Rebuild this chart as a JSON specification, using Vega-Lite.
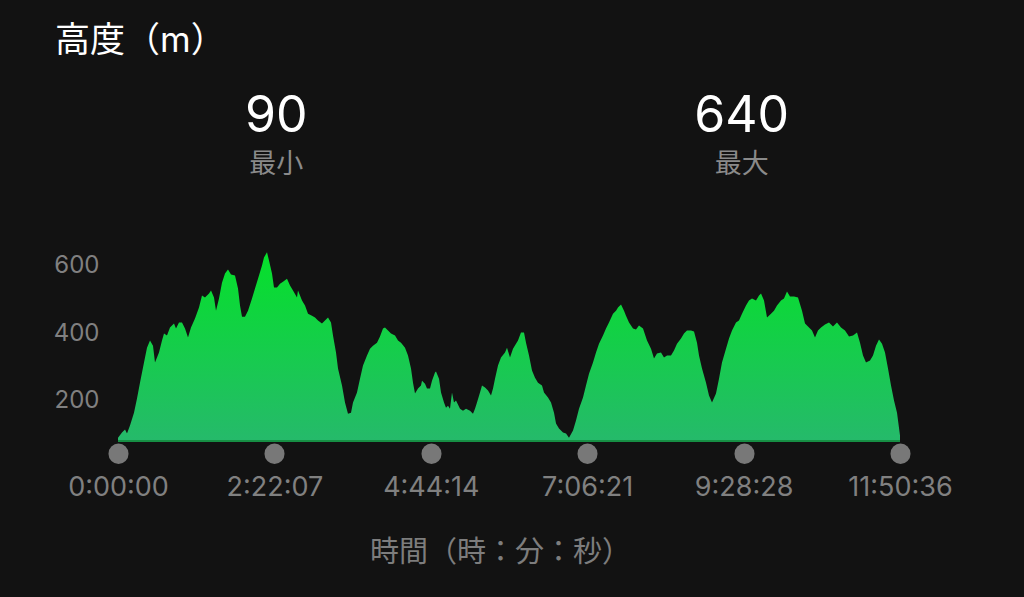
{
  "$schema": "https://vega.github.io/schema/vega-lite/v6.json",
  "autosize": "none",
  "padding": {"left": 118, "top": 249, "right": 124, "bottom": 156},
  "width": 782,
  "height": 192,
  "background": "#121212",
  "title": {
    "text": "高度（m）",
    "anchor": "start",
    "frame": "group",
    "orient": "top",
    "dx": -63,
    "offset": 5,
    "baseline": "alphabetic",
    "color": "#ffffff",
    "fontSize": 35,
    "fontWeight": "normal",
    "font": "Inter, Noto Sans CJK JP"
  },
  "config": {"view": {"stroke": null}, "font": "Inter, Noto Sans CJK JP"},
  "datasets": {
    "profile": [
      {"t":0,"elev":90},{"t":218,"elev":105},{"t":382,"elev":114},{"t":491,"elev":102},{"t":654,"elev":126},{"t":872,"elev":164},{"t":1036,"elev":206},{"t":1199,"elev":253},{"t":1418,"elev":313},{"t":1581,"elev":357},{"t":1745,"elev":378},{"t":1908,"elev":363},{"t":2017,"elev":313},{"t":2235,"elev":343},{"t":2399,"elev":378},{"t":2508,"elev":399},{"t":2672,"elev":393},{"t":2835,"elev":417},{"t":3053,"elev":429},{"t":3162,"elev":414},{"t":3326,"elev":432},{"t":3489,"elev":432},{"t":3653,"elev":414},{"t":3817,"elev":387},{"t":3980,"elev":417},{"t":4198,"elev":444},{"t":4416,"elev":476},{"t":4580,"elev":512},{"t":4743,"elev":506},{"t":4962,"elev":518},{"t":5071,"elev":527},{"t":5234,"elev":506},{"t":5343,"elev":467},{"t":5507,"elev":503},{"t":5670,"elev":550},{"t":5834,"elev":577},{"t":5997,"elev":589},{"t":6161,"elev":574},{"t":6379,"elev":571},{"t":6543,"elev":533},{"t":6652,"elev":482},{"t":6761,"elev":449},{"t":6924,"elev":449},{"t":7088,"elev":467},{"t":7306,"elev":503},{"t":7470,"elev":533},{"t":7633,"elev":562},{"t":7851,"elev":601},{"t":7960,"elev":625},{"t":8124,"elev":640},{"t":8233,"elev":616},{"t":8396,"elev":577},{"t":8505,"elev":536},{"t":8669,"elev":536},{"t":8833,"elev":547},{"t":8996,"elev":553},{"t":9214,"elev":562},{"t":9378,"elev":542},{"t":9541,"elev":527},{"t":9759,"elev":506},{"t":9814,"elev":527},{"t":10032,"elev":497},{"t":10196,"elev":482},{"t":10359,"elev":458},{"t":10577,"elev":452},{"t":10741,"elev":447},{"t":10904,"elev":438},{"t":11122,"elev":429},{"t":11286,"elev":438},{"t":11450,"elev":447},{"t":11613,"elev":432},{"t":11722,"elev":393},{"t":11886,"elev":343},{"t":11995,"elev":295},{"t":12213,"elev":245},{"t":12376,"elev":194},{"t":12540,"elev":161},{"t":12704,"elev":164},{"t":12813,"elev":194},{"t":13031,"elev":224},{"t":13194,"elev":265},{"t":13358,"elev":304},{"t":13576,"elev":334},{"t":13740,"elev":354},{"t":13903,"elev":363},{"t":14121,"elev":372},{"t":14285,"elev":390},{"t":14448,"elev":414},{"t":14557,"elev":417},{"t":14721,"elev":408},{"t":14885,"elev":399},{"t":15103,"elev":393},{"t":15266,"elev":378},{"t":15430,"elev":372},{"t":15648,"elev":357},{"t":15811,"elev":334},{"t":15975,"elev":295},{"t":16084,"elev":253},{"t":16193,"elev":221},{"t":16357,"elev":236},{"t":16520,"elev":245},{"t":16575,"elev":259},{"t":16738,"elev":250},{"t":16847,"elev":236},{"t":17011,"elev":236},{"t":17120,"elev":259},{"t":17283,"elev":283},{"t":17338,"elev":286},{"t":17502,"elev":265},{"t":17611,"elev":224},{"t":17774,"elev":194},{"t":17883,"elev":179},{"t":17992,"elev":185},{"t":18101,"elev":176},{"t":18210,"elev":224},{"t":18319,"elev":194},{"t":18428,"elev":200},{"t":18647,"elev":176},{"t":18810,"elev":170},{"t":18974,"elev":176},{"t":19192,"elev":170},{"t":19355,"elev":161},{"t":19464,"elev":176},{"t":19573,"elev":194},{"t":19737,"elev":224},{"t":19846,"elev":245},{"t":20010,"elev":239},{"t":20173,"elev":230},{"t":20337,"elev":215},{"t":20446,"elev":236},{"t":20555,"elev":265},{"t":20718,"elev":304},{"t":20882,"elev":328},{"t":21100,"elev":343},{"t":21209,"elev":357},{"t":21373,"elev":328},{"t":21536,"elev":354},{"t":21700,"elev":369},{"t":21809,"elev":378},{"t":21972,"elev":402},{"t":22136,"elev":402},{"t":22245,"elev":372},{"t":22409,"elev":334},{"t":22572,"elev":289},{"t":22736,"elev":268},{"t":22899,"elev":253},{"t":23117,"elev":245},{"t":23226,"elev":224},{"t":23444,"elev":209},{"t":23608,"elev":194},{"t":23772,"elev":164},{"t":23881,"elev":132},{"t":24044,"elev":117},{"t":24262,"elev":105},{"t":24426,"elev":102},{"t":24589,"elev":90},{"t":24808,"elev":111},{"t":24971,"elev":141},{"t":25135,"elev":176},{"t":25353,"elev":209},{"t":25516,"elev":245},{"t":25680,"elev":280},{"t":25898,"elev":313},{"t":26062,"elev":343},{"t":26225,"elev":369},{"t":26443,"elev":393},{"t":26607,"elev":414},{"t":26770,"elev":432},{"t":26988,"elev":458},{"t":27152,"elev":467},{"t":27261,"elev":476},{"t":27425,"elev":485},{"t":27588,"elev":467},{"t":27697,"elev":452},{"t":27861,"elev":432},{"t":28079,"elev":414},{"t":28242,"elev":411},{"t":28406,"elev":423},{"t":28624,"elev":414},{"t":28842,"elev":378},{"t":29060,"elev":354},{"t":29224,"elev":325},{"t":29387,"elev":340},{"t":29605,"elev":343},{"t":29769,"elev":328},{"t":29933,"elev":334},{"t":30151,"elev":334},{"t":30314,"elev":349},{"t":30478,"elev":369},{"t":30696,"elev":384},{"t":30859,"elev":399},{"t":31023,"elev":408},{"t":31241,"elev":408},{"t":31405,"elev":405},{"t":31568,"elev":372},{"t":31677,"elev":334},{"t":31841,"elev":295},{"t":32059,"elev":253},{"t":32222,"elev":215},{"t":32386,"elev":194},{"t":32604,"elev":221},{"t":32768,"elev":265},{"t":32931,"elev":313},{"t":33149,"elev":354},{"t":33313,"elev":384},{"t":33477,"elev":408},{"t":33695,"elev":432},{"t":33858,"elev":438},{"t":34022,"elev":458},{"t":34240,"elev":482},{"t":34403,"elev":497},{"t":34567,"elev":503},{"t":34785,"elev":497},{"t":34949,"elev":512},{"t":35058,"elev":518},{"t":35221,"elev":497},{"t":35385,"elev":447},{"t":35603,"elev":458},{"t":35766,"elev":467},{"t":35930,"elev":482},{"t":36148,"elev":497},{"t":36312,"elev":503},{"t":36475,"elev":524},{"t":36639,"elev":509},{"t":36857,"elev":509},{"t":37075,"elev":506},{"t":37293,"elev":467},{"t":37457,"elev":429},{"t":37620,"elev":420},{"t":37838,"elev":408},{"t":38002,"elev":387},{"t":38165,"elev":408},{"t":38329,"elev":417},{"t":38547,"elev":426},{"t":38765,"elev":432},{"t":38983,"elev":420},{"t":39201,"elev":432},{"t":39419,"elev":417},{"t":39637,"elev":408},{"t":39856,"elev":390},{"t":40074,"elev":393},{"t":40292,"elev":402},{"t":40455,"elev":372},{"t":40619,"elev":334},{"t":40782,"elev":313},{"t":41001,"elev":319},{"t":41164,"elev":334},{"t":41328,"elev":363},{"t":41491,"elev":381},{"t":41655,"elev":369},{"t":41818,"elev":343},{"t":41982,"elev":295},{"t":42146,"elev":245},{"t":42309,"elev":200},{"t":42473,"elev":164},{"t":42636,"elev":96}
    ],
    "stats": [
      {"stat": "最小", "value": 90},
      {"stat": "最大", "value": 640}
    ]
  },
  "layer": [
    {
      "data": {"name": "profile"},
      "mark": {
        "type": "area",
        "interpolate": "linear",
        "clip": true,
        "color": {
          "gradient": "linear",
          "x1": 0, "y1": 0, "x2": 0, "y2": 1,
          "stops": [
            {"offset": 0, "color": "#05e12a"},
            {"offset": 1, "color": "#2ab474"}
          ]
        }
      },
      "encoding": {
        "x": {
          "field": "t",
          "type": "quantitative",
          "scale": {"domain": [0, 42636], "nice": false, "zero": false},
          "axis": {
            "values": [0, 8527, 17054, 25581, 34108, 42636],
            "labelExpr": "floor(datum.value/3600) + ':' + pad(floor((datum.value%3600)/60), 2, '0', 'left') + ':' + pad(floor(datum.value%60), 2, '0', 'left')",
            "domain": false,
            "grid": false,
            "ticks": true,
            "tickSize": 0.5,
            "tickWidth": 20,
            "tickCap": "round",
            "tickColor": "#787878",
            "offset": 12,
            "labelPadding": 33.5,
            "labelBaseline": "middle",
            "labelFontSize": 27,
            "labelColor": "#808080",
            "labelFont": "Inter",
            "labelFlush": false,
            "labelOverlap": false,
            "labelBound": false,
            "title": "時間（時：分：秒）",
            "titleFont": "Noto Sans CJK JP",
            "titleFontSize": 29,
            "titleColor": "#7d7d7d",
            "titleFontWeight": "normal",
            "titleBaseline": "middle",
            "titleY": 99,
            "titleX": 382,
            "titleAlign": "center"
          }
        },
        "y": {
          "field": "elev",
          "type": "quantitative",
          "scale": {"domain": [80, 650], "nice": false, "zero": false},
          "axis": {
            "values": [200, 400, 600],
            "domain": false,
            "ticks": false,
            "tickSize": 0,
            "grid": false,
            "labelPadding": 19,
            "labelFontSize": 24,
            "labelColor": "#808080",
            "labelFont": "Inter",
            "title": null
          }
        }
      }
    },
    {
      "data": {"values": [{"base": 80}]},
      "mark": {"type": "rule", "color": "#168f44", "strokeWidth": 2},
      "encoding": {"y": {"field": "base", "type": "quantitative"}}
    },
    {
      "data": {"name": "stats"},
      "mark": {"type": "text", "fontSize": 50, "color": "#ffffff", "baseline": "alphabetic", "dy": -213, "font": "Inter"},
      "encoding": {
        "x": {"field": "stat", "type": "nominal", "scale": {"type": "point", "padding": 0.34, "domain": ["最小", "最大"]}, "axis": null},
        "text": {"field": "value", "type": "quantitative"}
      }
    },
    {
      "data": {"name": "stats"},
      "mark": {"type": "text", "fontSize": 27, "color": "#8a8a8a", "baseline": "alphabetic", "dy": -172, "font": "Noto Sans CJK JP"},
      "encoding": {
        "x": {"field": "stat", "type": "nominal", "scale": {"type": "point", "padding": 0.34, "domain": ["最小", "最大"]}, "axis": null},
        "text": {"field": "stat", "type": "nominal"}
      }
    }
  ],
  "resolve": {"scale": {"x": "independent"}}
}
